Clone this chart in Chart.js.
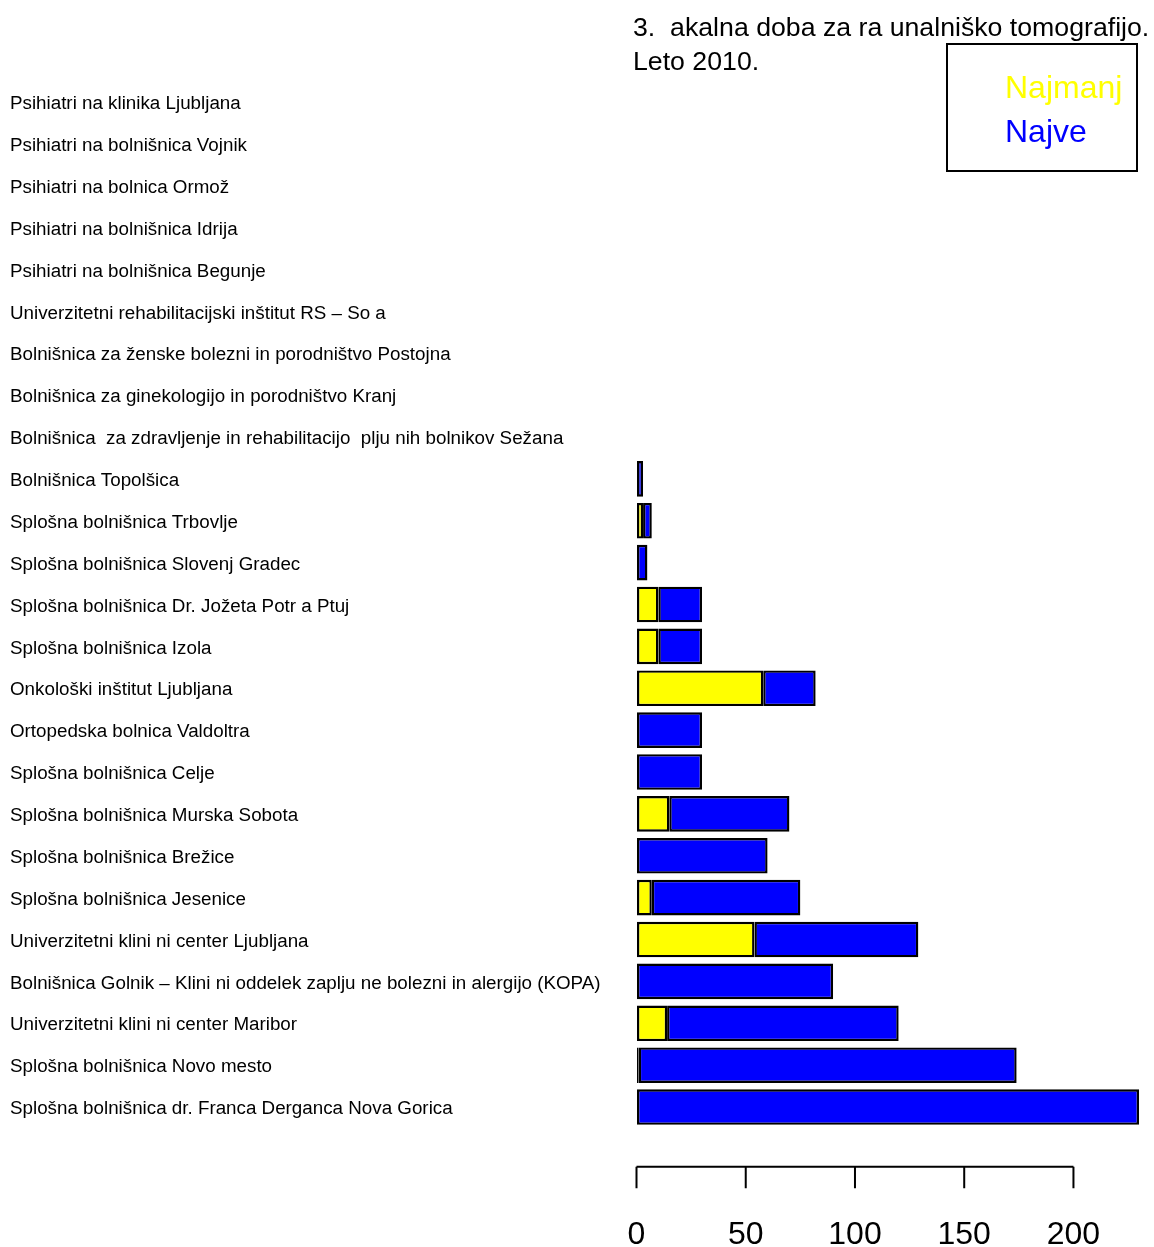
<!DOCTYPE html>
<html>
<head>
<meta charset="utf-8">
<script src="https://cdn.jsdelivr.net/npm/chart.js@4/dist/chart.umd.min.js"></script>
<style>
  body { margin: 0; background: #fff; }
  #wrap { position: relative; width: 1154px; height: 1247px; }
  #title { position: absolute; left: 633px; top: 10px; font: 26.7px "Liberation Sans", Arial, sans-serif; line-height: 34px; white-space: pre; color: #000; }
  #legend { position: absolute; left: 946px; top: 43px; width: 188px; height: 125px; border: 2px solid #000; box-sizing: content-box; padding: 0; }
  #legend div { position: absolute; left: 57px; font: 32px "Liberation Sans", Arial, sans-serif; line-height: 44px; white-space: nowrap; }
</style>
</head>
<body>
<div id="wrap">
  <canvas id="chart" width="1154" height="1247"></canvas>
  <div id="title"></div>
  <div id="legend"></div>
</div>
<script>
const titleLines = ['3.  akalna doba za ra unalniško tomografijo.', 'Leto 2010.'];

const categories = [
  'Psihiatri na klinika Ljubljana',
  'Psihiatri na bolnišnica Vojnik',
  'Psihiatri na bolnica Ormož',
  'Psihiatri na bolnišnica Idrija',
  'Psihiatri na bolnišnica Begunje',
  'Univerzitetni rehabilitacijski inštitut RS – So a',
  'Bolnišnica za ženske bolezni in porodništvo Postojna',
  'Bolnišnica za ginekologijo in porodništvo Kranj',
  'Bolnišnica  za zdravljenje in rehabilitacijo  plju nih bolnikov Sežana',
  'Bolnišnica Topolšica',
  'Splošna bolnišnica Trbovlje',
  'Splošna bolnišnica Slovenj Gradec',
  'Splošna bolnišnica Dr. Jožeta Potr a Ptuj',
  'Splošna bolnišnica Izola',
  'Onkološki inštitut Ljubljana',
  'Ortopedska bolnica Valdoltra',
  'Splošna bolnišnica Celje',
  'Splošna bolnišnica Murska Sobota',
  'Splošna bolnišnica Brežice',
  'Splošna bolnišnica Jesenice',
  'Univerzitetni klini ni center Ljubljana',
  'Bolnišnica Golnik – Klini ni oddelek zaplju ne bolezni in alergijo (KOPA)',
  'Univerzitetni klini ni center Maribor',
  'Splošna bolnišnica Novo mesto',
  'Splošna bolnišnica dr. Franca Derganca Nova Gorica'
];

// yellow segment (shortest wait)
const najmanj = [0, 0, 0, 0, 0, 0, 0, 0, 0, 0, 3, 0, 10, 10, 58, 0, 0, 15, 0, 7, 54, 0, 14, 1, 0];
// blue segment, stacked after the yellow one
const najve = [0, 0, 0, 0, 0, 0, 0, 0, 0, 3, 4, 5, 20, 20, 24, 30, 30, 55, 60, 68, 75, 90, 106, 173, 230];

const xTicks = [0, 50, 100, 150, 200];
const xMax = 230;

// title + legend as html text
document.getElementById('title').textContent = titleLines.join('\n');

const datasets = [
  { label: 'Najmanj', data: najmanj, backgroundColor: '#ffff00' },
  { label: 'Najve', data: najve, backgroundColor: '#0000ff' }
].map(d => Object.assign(d, {
  borderColor: '#000',
  borderWidth: 2.4,
  borderSkipped: false,
  categoryPercentage: 1,
  barPercentage: 0.85
}));

const legend = document.getElementById('legend');
datasets.forEach((d, i) => {
  const el = document.createElement('div');
  el.textContent = d.label;
  el.style.color = d.backgroundColor;
  el.style.top = (20 + i * 44) + 'px';
  legend.appendChild(el);
});

// R style axis: line from first to last tick, detached below the bars
const axisPlugin = {
  id: 'rAxis',
  afterDraw(chart) {
    const x = chart.scales.x;
    const ctx = chart.ctx;
    const y0 = chart.chartArea.bottom + 38.7;
    ctx.save();
    ctx.strokeStyle = '#000';
    ctx.lineWidth = 2;
    ctx.beginPath();
    ctx.moveTo(x.getPixelForValue(xTicks[0]), y0);
    ctx.lineTo(x.getPixelForValue(xTicks[xTicks.length - 1]), y0);
    xTicks.forEach(t => {
      const px = x.getPixelForValue(t);
      ctx.moveTo(px, y0);
      ctx.lineTo(px, y0 + 21.5);
    });
    ctx.stroke();
    ctx.restore();
  }
};

new Chart(document.getElementById('chart'), {
  type: 'bar',
  data: { labels: categories, datasets },
  plugins: [axisPlugin],
  options: {
    indexAxis: 'y',
    responsive: false,
    animation: false,
    layout: { padding: { left: 10, right: 15, top: 81, bottom: 0 } },
    plugins: { legend: { display: false }, tooltip: { enabled: false } },
    scales: {
      x: {
        stacked: true,
        min: 0,
        max: xMax,
        afterBuildTicks: s => { s.ticks = xTicks.map(v => ({ value: v })); },
        afterFit: s => { s.height = 119; s.paddingLeft = 0; s.paddingRight = 0; },
        // invisible tick marks only used to push the labels down
        grid: { display: true, drawOnChartArea: false, drawTicks: true, tickLength: 85, color: 'rgba(0,0,0,0)' },
        border: { display: false },
        ticks: {
          padding: 3,
          color: '#000',
          font: { family: '"Liberation Sans", Arial, sans-serif', size: 32 }
        }
      },
      y: {
        stacked: true,
        afterFit: s => { s.width = 626.5; },
        grid: { display: false, drawTicks: false },
        border: { display: false },
        ticks: {
          crossAlign: 'far',
          autoSkip: false,
          labelOffset: 2,
          color: '#000',
          font: { family: '"Liberation Sans", Arial, sans-serif', size: 18.8 }
        }
      }
    }
  }
});
</script>
</body>
</html>
